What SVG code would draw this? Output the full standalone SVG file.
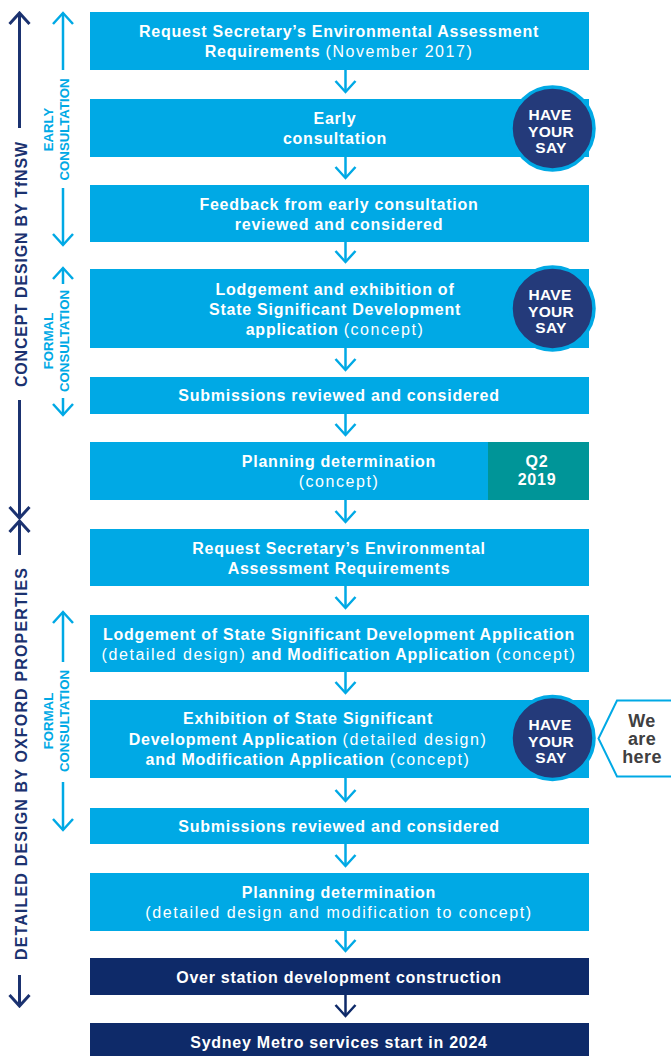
<svg xmlns="http://www.w3.org/2000/svg" width="671" height="1056" viewBox="0 0 671 1056">
<defs>
<style>
.bx{fill:#00A9E5}
.dk{fill:#0E2A69}
.tl{fill:#009598}
.t{font-family:"Liberation Sans",Arial,sans-serif;font-weight:bold;font-size:16px;fill:#fff;text-anchor:middle;letter-spacing:0.75px}
.r{font-weight:normal;letter-spacing:1.55px}
.hys{font-family:"Liberation Sans",Arial,sans-serif;font-weight:bold;font-size:15.5px;fill:#fff;text-anchor:middle;letter-spacing:0.3px}
.circ{fill:#243A7A;stroke:#00A9E5;stroke-width:3.5}
.ln{fill:none;stroke:#00A9E5;stroke-width:2.5}
.lnd{fill:none;stroke:#0E2A69;stroke-width:2.5}
.side{fill:none;stroke:#1B3270;stroke-width:3}
.sidel{fill:none;stroke:#00A9E5;stroke-width:2.5}
.lab{font-family:"Liberation Sans",Arial,sans-serif;font-weight:bold;font-size:16px;fill:#1B3270;text-anchor:middle}
.labl{font-family:"Liberation Sans",Arial,sans-serif;font-weight:bold;font-size:13.2px;fill:#00A9E5;text-anchor:middle}
.we{font-family:"Liberation Sans",Arial,sans-serif;font-weight:bold;font-size:18px;fill:#404041;text-anchor:middle;letter-spacing:0.4px}
</style>
<marker id="hb" viewBox="-13 -12 15 24" markerWidth="15" markerHeight="24" refX="0" refY="0" orient="auto" markerUnits="userSpaceOnUse">
<path d="M-11,-10 L0,0 L-11,10" fill="none" stroke="#00A9E5" stroke-width="2.5"/>
</marker>
<marker id="hd" viewBox="-13 -12 15 24" markerWidth="15" markerHeight="24" refX="0" refY="0" orient="auto" markerUnits="userSpaceOnUse">
<path d="M-11,-10 L0,0 L-11,10" fill="none" stroke="#0E2A69" stroke-width="2.5"/>
</marker>
<marker id="hn" viewBox="-13 -12 15 24" markerWidth="15" markerHeight="24" refX="0" refY="0" orient="auto" markerUnits="userSpaceOnUse">
<path d="M-11,-10 L0,0 L-11,10" fill="none" stroke="#1B3270" stroke-width="3"/>
</marker>
</defs>

<g id="connectors">
<path class="ln" marker-end="url(#hb)" d="M345.5,70 V92"/>
<path class="ln" marker-end="url(#hb)" d="M345.5,157 V178"/>
<path class="ln" marker-end="url(#hb)" d="M345.5,242 V262"/>
<path class="ln" marker-end="url(#hb)" d="M345.5,348 V370"/>
<path class="ln" marker-end="url(#hb)" d="M345.5,414 V435"/>
<path class="ln" marker-end="url(#hb)" d="M345.5,500 V522"/>
<path class="ln" marker-end="url(#hb)" d="M345.5,586 V608"/>
<path class="ln" marker-end="url(#hb)" d="M345.5,672 V693"/>
<path class="ln" marker-end="url(#hb)" d="M345.5,778 V801"/>
<path class="ln" marker-end="url(#hb)" d="M345.5,844 V866"/>
<path class="ln" marker-end="url(#hb)" d="M345.5,931 V951"/>
<path class="lnd" marker-end="url(#hd)" d="M345.5,995 V1016"/>
</g>

<g id="side-concept">
<path class="side" marker-end="url(#hn)" d="M19.5,128 V13"/>
<path class="side" marker-end="url(#hn)" d="M19.5,400 V518"/>
<text class="lab" transform="translate(26.5,264.5) rotate(-90)" textLength="245" lengthAdjust="spacing">CONCEPT DESIGN BY TfNSW</text>
</g>
<g id="side-detailed">
<path class="side" marker-end="url(#hn)" d="M19.5,555 V521"/>
<path class="side" marker-end="url(#hn)" d="M19.5,975 V1006"/>
<text class="lab" transform="translate(26.5,764) rotate(-90)" textLength="392" lengthAdjust="spacing">DETAILED DESIGN BY OXFORD PROPERTIES</text>
</g>
<g id="side-early">
<path class="sidel" marker-end="url(#hb)" d="M63,70 V13"/>
<path class="sidel" marker-end="url(#hb)" d="M63,188 V245"/>
<text class="labl" transform="translate(53,129.5) rotate(-90)">EARLY</text>
<text class="labl" transform="translate(68.5,129.5) rotate(-90)">CONSULTATION</text>
</g>
<g id="side-formal1">
<path class="sidel" marker-end="url(#hb)" d="M63,284 V268"/>
<path class="sidel" marker-end="url(#hb)" d="M63,398 V415"/>
<text class="labl" transform="translate(53,341) rotate(-90)">FORMAL</text>
<text class="labl" transform="translate(68.5,341) rotate(-90)">CONSULTATION</text>
</g>
<g id="side-formal2">
<path class="sidel" marker-end="url(#hb)" d="M63,662 V612"/>
<path class="sidel" marker-end="url(#hb)" d="M63,782 V830"/>
<text class="labl" transform="translate(53,721) rotate(-90)">FORMAL</text>
<text class="labl" transform="translate(68.5,721) rotate(-90)">CONSULTATION</text>
</g>

<g id="n1">
<rect class="bx" x="90" y="12" width="499" height="58"/>
<text class="t" x="339" y="37">Request Secretary’s Environmental Assessment</text>
<text class="t" x="339" y="57">Requirements <tspan class="r">(November 2017)</tspan></text>
</g>
<g id="n2">
<rect class="bx" x="90" y="99" width="499" height="58"/>
<text class="t" x="335" y="124">Early</text>
<text class="t" x="335" y="144">consultation</text>
</g>
<g id="hys1">
<circle class="circ" cx="552.5" cy="128.5" r="41.5"/>
<text class="hys" x="550" y="120">HAVE</text>
<text class="hys" x="551" y="136.5">YOUR</text>
<text class="hys" x="551" y="153">SAY</text>
</g>
<g id="n3">
<rect class="bx" x="90" y="185" width="499" height="57"/>
<text class="t" x="339" y="210">Feedback from early consultation</text>
<text class="t" x="339" y="230">reviewed and considered</text>
</g>
<g id="n4">
<rect class="bx" x="90" y="269" width="499" height="79"/>
<text class="t" x="335" y="294.5">Lodgement and exhibition of</text>
<text class="t" x="335" y="315">State Significant Development</text>
<text class="t" x="335" y="335">application <tspan class="r">(concept)</tspan></text>
</g>
<g id="hys2">
<circle class="circ" cx="552.5" cy="308.5" r="41.5"/>
<text class="hys" x="550" y="300">HAVE</text>
<text class="hys" x="551" y="316.5">YOUR</text>
<text class="hys" x="551" y="333">SAY</text>
</g>
<g id="n5">
<rect class="bx" x="90" y="377" width="499" height="37"/>
<text class="t" x="339" y="401">Submissions reviewed and considered</text>
</g>
<g id="n6">
<rect class="bx" x="90" y="442" width="499" height="58"/>
<rect class="tl" x="488" y="442" width="101" height="58"/>
<text class="t" x="339" y="467">Planning determination</text>
<text class="t" x="339" y="487"><tspan class="r">(concept)</tspan></text>
<text class="t" x="537" y="467">Q2</text>
<text class="t" x="537" y="485">2019</text>
</g>
<g id="n7">
<rect class="bx" x="90" y="529" width="499" height="57"/>
<text class="t" x="339" y="554">Request Secretary’s Environmental</text>
<text class="t" x="339" y="574">Assessment Requirements</text>
</g>
<g id="n8">
<rect class="bx" x="90" y="615" width="499" height="57"/>
<text class="t" x="339" y="640">Lodgement of State Significant Development Application</text>
<text class="t" x="339" y="660"><tspan class="r">(detailed design)</tspan> and Modification Application <tspan class="r">(concept)</tspan></text>
</g>
<g id="n9">
<rect class="bx" x="90" y="700" width="499" height="78"/>
<text class="t" x="308" y="724">Exhibition of State Significant</text>
<text class="t" x="308" y="745">Development Application <tspan class="r">(detailed design)</tspan></text>
<text class="t" x="308" y="765">and Modification Application <tspan class="r">(concept)</tspan></text>
</g>
<g id="hys3">
<circle class="circ" cx="552.5" cy="738" r="41.5"/>
<text class="hys" x="550" y="730">HAVE</text>
<text class="hys" x="551" y="746.5">YOUR</text>
<text class="hys" x="551" y="763">SAY</text>
</g>
<g id="we-are-here">
<path d="M675,700.5 H617 L598.5,738.5 L617,776.5 H675" fill="#fff" stroke="#00A9E5" stroke-width="2"/>
<text class="we" x="642" y="727">We</text>
<text class="we" x="642" y="745">are</text>
<text class="we" x="642" y="763">here</text>
</g>
<g id="n10">
<rect class="bx" x="90" y="808" width="499" height="36"/>
<text class="t" x="339" y="832">Submissions reviewed and considered</text>
</g>
<g id="n11">
<rect class="bx" x="90" y="873" width="499" height="58"/>
<text class="t" x="339" y="898">Planning determination</text>
<text class="t" x="339" y="918"><tspan class="r">(detailed design and modification to concept)</tspan></text>
</g>
<g id="n12">
<rect class="dk" x="90" y="958" width="499" height="37"/>
<text class="t" x="339" y="982.5">Over station development construction</text>
</g>
<g id="n13">
<rect class="dk" x="90" y="1023" width="499" height="40"/>
<text class="t" x="339" y="1048">Sydney Metro services start in 2024</text>
</g>
</svg>
